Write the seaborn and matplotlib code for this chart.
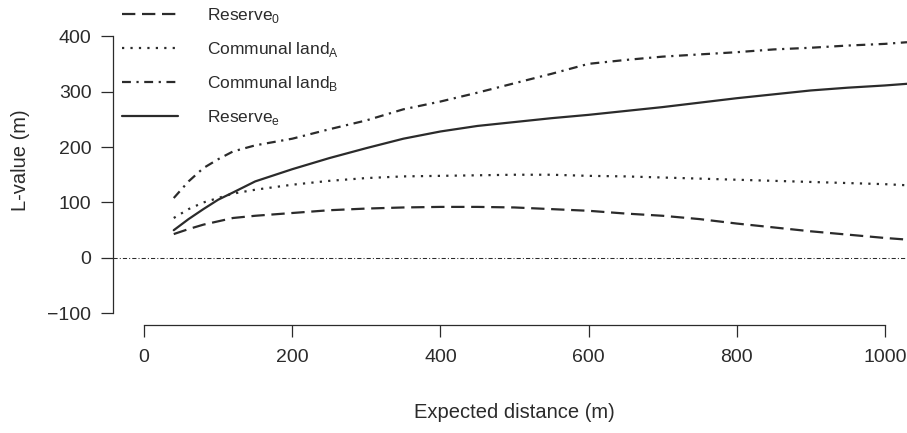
import pandas as pd
import matplotlib
matplotlib.use("Agg")
import matplotlib.pyplot as plt
import seaborn as sns

# values
distance = [40, 60, 80, 100, 120, 150, 200, 250, 300, 350, 400, 450, 500,
            550, 600, 650, 700, 750, 800, 850, 900, 950, 1000, 1030]
reserve_0 = [43, 52, 60, 66, 72, 76, 81, 86, 89, 91, 92, 92, 91,
             88, 85, 80, 76, 70, 62, 55, 48, 42, 36, 33]
communal_a = [72, 88, 100, 108, 116, 123, 132, 139, 144, 147, 148, 149, 150,
              150, 148, 147, 145, 143, 141, 139, 137, 135, 133, 131]
communal_b = [108, 138, 162, 178, 192, 203, 215, 232, 248, 268, 282, 298, 315,
              332, 350, 357, 363, 367, 371, 376, 379, 383, 386, 389]
reserve_e = [50, 70, 88, 105, 118, 138, 160, 180, 198, 215, 228, 238, 245,
             252, 258, 265, 272, 280, 288, 295, 302, 307, 311, 314]

labels = [r"Reserve$_\mathregular{0}$", r"Communal land$_\mathregular{A}$",
          r"Communal land$_\mathregular{B}$", r"Reserve$_\mathregular{e}$"]
series = [reserve_0, communal_a, communal_b, reserve_e]
dash_styles = [(6, 3), (1, 2.8), (4, 2.5, 1, 2.5), None]

x_ticks = [0, 200, 400, 600, 800, 1000]
y_ticks = [-100, 0, 100, 200, 300, 400]

frames = []
for lab, vals in zip(labels, series):
    frames.append(pd.DataFrame({"distance": distance, "L": vals, "group": lab}))
df = pd.concat(frames, ignore_index=True)

sns.set_style("ticks")
plt.rcParams["font.family"] = ["Liberation Sans", "DejaVu Sans"]
plt.rcParams["mathtext.fontset"] = "custom"
plt.rcParams["mathtext.rm"] = "Liberation Sans"

ink = "#2b2b2b"
fig = plt.figure(figsize=(9.07, 4.33), dpi=100)
ax = fig.add_axes([0.1246, 0.2494, 0.8754, 0.6928])

# reference line at L = 0
ax.axhline(0, color=ink, lw=0.75, dashes=(4, 2, 1, 2))

handles = []
for lab, dsh in zip(labels, dash_styles):
    sns.lineplot(data=df[df["group"] == lab], x="distance", y="L",
                 ax=ax, color=ink, linewidth=1.6)
    line = ax.lines[-1]
    if dsh is not None:
        line.set_dashes(dsh)
    handles.append(line)

ax.set_xlim(-42, 1030)
ax.set_ylim(-121, 420)
ax.set_xticks(x_ticks)
ax.set_yticks(y_ticks)
ax.set_yticklabels(["\u2212100", "0", "100", "200", "300", "400"])

for side in ["top", "right"]:
    ax.spines[side].set_visible(False)
ax.spines["left"].set_bounds(-100, 400)
ax.spines["bottom"].set_bounds(0, 1000)
for side in ["left", "bottom"]:
    ax.spines[side].set_color(ink)
    ax.spines[side].set_linewidth(0.9)

ax.tick_params(axis="both", direction="out", length=8.5, width=0.9,
               color=ink, labelsize=14, labelcolor=ink)
ax.tick_params(axis="y", pad=7)
ax.tick_params(axis="x", pad=9)

ax.set_xlabel("Expected distance (m)", fontsize=14.5, color=ink)
ax.set_ylabel("L-value (m)", fontsize=14.5, color=ink)
ax.xaxis.label.set_va("center")
ax.yaxis.label.set_va("center")
ax.xaxis.set_label_coords(0.505, -0.29)
ax.yaxis.set_label_coords(-0.117, 0.55)

ax.legend(handles, labels, loc="upper left", bbox_to_anchor=(0.1345, 0.985),
          bbox_transform=fig.transFigure, frameon=False, fontsize=12.5,
          borderpad=0, borderaxespad=0, handlelength=3.2, handletextpad=1.7,
          labelspacing=0.86, labelcolor=ink)

fig.savefig("out.png", dpi=100)
